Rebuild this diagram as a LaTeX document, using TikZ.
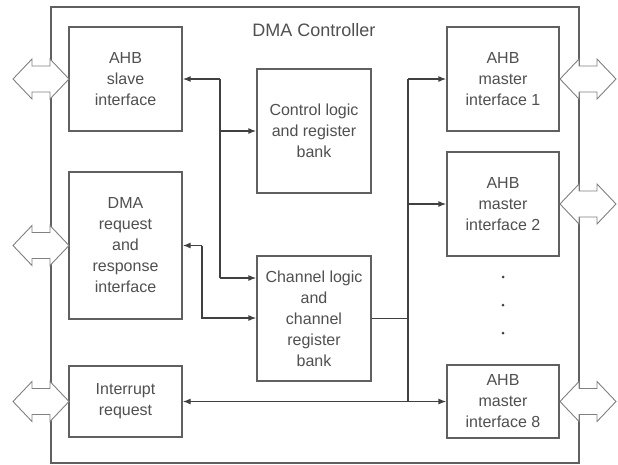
\documentclass[tikz,border=0pt]{standalone}
\usepackage{fontspec}
\setmainfont{Liberation Sans}
\usetikzlibrary{arrows.meta}
\definecolor{txtc}{HTML}{505050}
\definecolor{boxc}{HTML}{606060}
\definecolor{linec}{HTML}{404040}
\definecolor{arrc}{HTML}{808080}
\begin{document}
\begin{tikzpicture}[x=1pt,y=-1pt,
  box/.style={draw=boxc, line width=1.3pt, fill=white, minimum width=113pt, align=center,
    text=txtc, font=\fontsize{16}{21}\selectfont, inner sep=0pt},
  conn/.style={draw=linec, line width=1.3pt},
  arr/.style={conn, -{Latex[length=8pt,width=6pt]}},
  biarr/.style={conn, {Latex[length=8pt,width=6pt]}-{Latex[length=8pt,width=6pt]}},
  dblarr/.pic={\draw[draw=arrc, fill=white, line width=0.9pt]
    (-28,0) -- (-9,-20) -- (-9,-13) -- (9,-13) -- (9,-20) -- (28,0)
    -- (9,20) -- (9,13) -- (-9,13) -- (-9,20) -- cycle;},
  dot/.style={fill=linec, circle, inner sep=0pt, minimum size=3pt}
]
\useasboundingbox (0,0) rectangle (618,464);
% outer controller box
\node[draw=boxc, line width=1.3pt, minimum width=528pt, minimum height=456pt, inner sep=0pt] (outer) at (315,235) {};
\node[text=txtc, font=\fontsize{18}{22}\selectfont] (title) at (314,30) {DMA Controller};

% left blocks
\node[box, minimum height=104pt] (slave) at (125.5,79) {AHB\\slave\\interface};
\node[box, minimum height=147pt] (dmareq) at (125.5,245.5) {DMA\\request\\and\\response\\interface};
\node[box, minimum height=71pt] (intr) at (125.5,401.5) {Interrupt\\request};

% middle blocks
\node[box, minimum width=114pt, minimum height=124pt] (ctrl) at (314,131) {Control logic\\and register\\bank};
\node[box, minimum width=114pt, minimum height=125pt] (chan) at (314,318.5) {Channel logic\\and\\channel\\register\\bank};

% right blocks
\node[box, minimum width=112pt, minimum height=104pt] (m1) at (503,79) {AHB\\master\\interface 1};
\node[box, minimum width=112pt, minimum height=104pt] (m2) at (503,204) {AHB\\master\\interface 2};
\node[box, minimum width=112pt, minimum height=73pt] (m8) at (503,401.5) {AHB\\master\\interface 8};
\node[dot] (d1) at (503,277) {};
\node[dot] (d2) at (503,305) {};
\node[dot] (d3) at (503,333) {};

% connectors
\coordinate (j1) at (220,79);
\coordinate (j1b) at (220,278);
\draw[arr] (j1) -- (slave.east);
\draw[arr] (j1) |- (ctrl.west);
\draw[conn] (j1) -- (j1b);
\draw[arr] (j1b) -- (j1b -| chan.west);

\coordinate (j2) at (202,245.5);
\draw[arr] (j2) -- (dmareq.east);
\draw[arr] (j2) |- ([yshift=0.5pt]chan.west);

\coordinate (j3) at (408,318.5);
\coordinate (j3t) at (408,79);
\coordinate (j3b) at (408,401.5);
\draw[conn] (chan.east) -- (j3);
\draw[conn] (j3t) -- (j3b);
\draw[arr] (j3t) -- (m1.west);
\draw[arr] (j3t |- m2.west) -- (m2.west);
\draw[biarr] (intr.east) -- (m8.west);

% bus double arrows
\pic at (41,79) {dblarr};
\pic at (41,245.5) {dblarr};
\pic at (41,401.5) {dblarr};
\pic at (588,79) {dblarr};
\pic at (588,204) {dblarr};
\pic at (588,401.5) {dblarr};
\end{tikzpicture}
\end{document}
